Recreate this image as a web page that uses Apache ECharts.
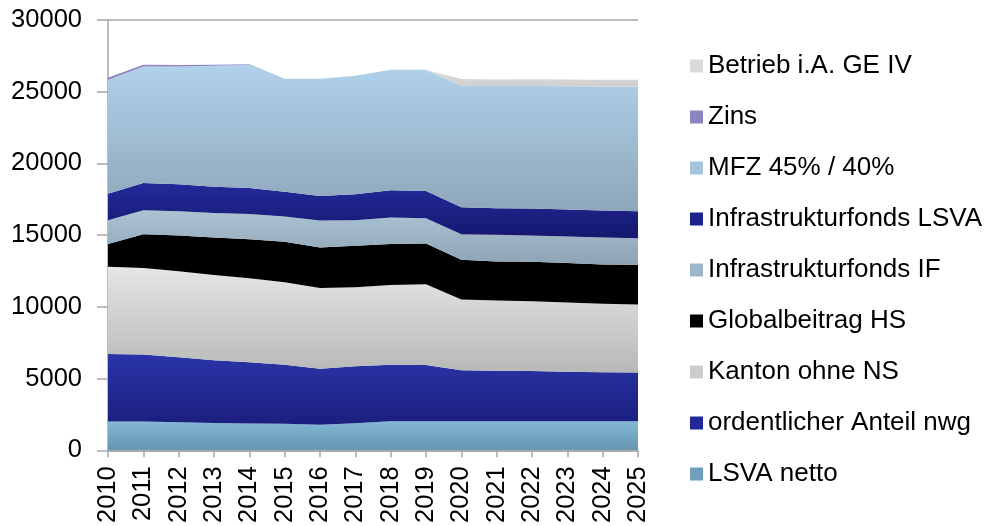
<!DOCTYPE html>
<html>
<head>
<meta charset="utf-8">
<script src="https://cdn.jsdelivr.net/npm/echarts@6/dist/echarts.min.js"></script>
<style>
  html, body { margin: 0; padding: 0; background: #fff; }
  #chart { width: 992px; height: 526px; }
</style>
</head>
<body>
<div id="chart"></div>
<script>
// Jahre und Werte
const years = ['2010', '2011', '2012', '2013', '2014', '2015', '2016', '2017',
  '2018', '2019', '2020', '2021', '2022', '2023', '2024', '2025'];

const lsvaNetto = [2000, 2000, 1950, 1900, 1870, 1850, 1780, 1880, 2030, 2030, 2030, 2030, 2030, 2030, 2030, 2030];
const ordentlicherAnteil = [4710, 4670, 4530, 4370, 4260, 4120, 3910, 3980, 3940, 3920, 3550, 3520, 3490, 3450, 3410, 3390];
const kantonOhneNS = [6090, 6040, 6000, 5950, 5860, 5740, 5630, 5510, 5560, 5620, 4930, 4890, 4870, 4820, 4770, 4740];
const globalbeitragHS = [1580, 2360, 2500, 2620, 2730, 2830, 2820, 2890, 2850, 2850, 2780, 2730, 2760, 2760, 2750, 2780];
const infraIF = [1660, 1670, 1690, 1710, 1760, 1760, 1880, 1780, 1850, 1760, 1780, 1850, 1830, 1850, 1880, 1850];
const infraLSVA = [1850, 1890, 1870, 1830, 1810, 1730, 1710, 1810, 1900, 1900, 1870, 1860, 1870, 1870, 1870, 1880];
const mfz = [7940, 8130, 8220, 8430, 8590, 7870, 8170, 8260, 8400, 8450, 8480, 8520, 8550, 8600, 8660, 8700];
const zins = [150, 120, 100, 70, 30, 0, 0, 0, 0, 0, 0, 0, 0, 0, 0, 0];
const betrieb = [0, 0, 0, 0, 0, 0, 0, 0, 0, 0, 460, 460, 470, 470, 460, 460];

const yTicks = [0, 5000, 10000, 15000, 20000, 25000, 30000];

const chartDom = document.getElementById('chart');
const chart = echarts.init(chartDom);

function grad(top, bottom) {
  return new echarts.graphic.LinearGradient(0, 0, 0, 1, [
    { offset: 0, color: top },
    { offset: 1, color: bottom }
  ]);
}

function areaSeries(name, data, solid, top, bottom) {
  return {
    name: name,
    type: 'line',
    stack: 'total',
    data: data,
    symbol: 'none',
    showSymbol: false,
    lineStyle: { width: 0 },
    itemStyle: { color: solid },
    areaStyle: { color: grad(top, bottom), opacity: 1 },
    emphasis: { disabled: true }
  };
}

const series = [
  areaSeries('LSVA netto', lsvaNetto, '#6f9fbd', '#82b8d6', '#6595b0'),
  areaSeries('ordentlicher Anteil nwg', ordentlicherAnteil, '#22289a', '#2a35a8', '#1a1e7e'),
  areaSeries('Kanton ohne NS', kantonOhneNS, '#cccccc', '#e6e6e6', '#b8b8b8'),
  areaSeries('Globalbeitrag HS', globalbeitragHS, '#000000', '#000000', '#000000'),
  areaSeries('Infrastrukturfonds IF', infraIF, '#9fb6c8', '#abc3d3', '#8ea3b4'),
  areaSeries('Infrastrukturfonds LSVA', infraLSVA, '#1d228c', '#232a9a', '#15186e'),
  areaSeries('MFZ 45% / 40%', mfz, '#a4c4dc', '#b0d2ea', '#8ea6ba'),
  areaSeries('Zins', zins, '#8985be', '#8d88c4', '#7c77b2'),
  areaSeries('Betrieb i.A. GE IV', betrieb, '#d9d9d9', '#e4e4e4', '#cfcfcf')
];

const option = {
  animation: false,
  textStyle: { fontFamily: 'Liberation Sans, Arial, sans-serif' },
  grid: { left: 108, right: 354, top: 20, bottom: 74 },
  legend: {
    orient: 'vertical',
    left: 685,
    top: 48,
    icon: 'rect',
    itemWidth: 13,
    itemHeight: 13,
    itemGap: 25,
    textStyle: { fontSize: 26, color: '#000' },
    data: series.map(s => s.name).reverse()
  },
  xAxis: {
    type: 'category',
    data: years,
    boundaryGap: false,
    axisLine: { lineStyle: { color: '#a6a6a6', width: 1.5 } },
    axisTick: { show: true, length: 7, lineStyle: { color: '#a6a6a6', width: 1.5 } },
    axisLabel: { rotate: 90, fontSize: 25.5, color: '#000', margin: 16, interval: 0 },
    splitLine: { show: false }
  },
  yAxis: {
    type: 'value',
    min: 0,
    max: yTicks[yTicks.length - 1],
    interval: 5000,
    axisLine: { show: true, lineStyle: { color: '#a6a6a6', width: 1.5 } },
    axisTick: { show: true, length: 11, lineStyle: { color: '#a6a6a6', width: 1.5 } },
    axisLabel: { fontSize: 25.5, color: '#000', margin: 26, formatter: v => String(v) },
    splitLine: { show: true, lineStyle: { color: '#a6a6a6', width: 1.5 } }
  },
  series: series
};

chart.setOption(option);
window.addEventListener('resize', () => chart.resize());
</script>
</body>
</html>
